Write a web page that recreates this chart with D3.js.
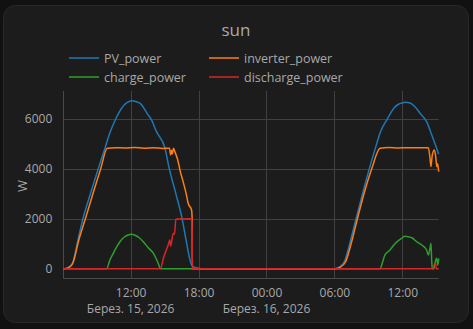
<!DOCTYPE html>
<html>
<head>
<meta charset="utf-8">
<script src="https://cdn.jsdelivr.net/npm/d3@7"></script>
<style>
  html, body { margin: 0; padding: 0; background: #111111; }
  svg { display: block; font-family: "Open Sans", Roboto, sans-serif; }
</style>
</head>
<body>
<div id="chart"></div>
<script>
// series data (time, watts)
const pvTimes = ["2026-03-15 06:03","2026-03-15 06:10","2026-03-15 06:39","2026-03-15 06:55","2026-03-15 07:04","2026-03-15 07:21","2026-03-15 07:47","2026-03-15 08:25","2026-03-15 09:08","2026-03-15 09:44","2026-03-15 10:10","2026-03-15 10:41","2026-03-15 11:12","2026-03-15 11:40","2026-03-15 12:08","2026-03-15 12:30","2026-03-15 12:49","2026-03-15 13:33","2026-03-15 13:48","2026-03-15 14:17","2026-03-15 15:02","2026-03-15 15:25","2026-03-15 16:00","2026-03-15 16:33","2026-03-15 16:55","2026-03-15 17:10","2026-03-15 17:23","2026-03-15 17:40","2026-03-15 18:07","2026-03-15 18:24",
  "2026-03-16 06:04","2026-03-16 06:30","2026-03-16 06:57","2026-03-16 07:05","2026-03-16 07:28","2026-03-16 07:55","2026-03-16 08:29","2026-03-16 09:05","2026-03-16 09:40","2026-03-16 10:05","2026-03-16 10:41","2026-03-16 11:15","2026-03-16 11:42","2026-03-16 12:00","2026-03-16 12:14","2026-03-16 12:41","2026-03-16 13:07","2026-03-16 13:34","2026-03-16 14:09","2026-03-16 14:36","2026-03-16 15:02","2026-03-16 15:13"];
const pvValues = [0,0,100,280,550,1150,2000,2960,4000,4830,5450,6000,6430,6650,6733,6690,6630,6160,6000,5490,4826,4000,3000,2000,1100,500,150,50,10,0,
  0,80,350,550,1200,2000,3000,4000,4900,5500,6000,6430,6600,6640,6670,6640,6490,6230,5890,5360,4826,4585];

const invTimes = ["2026-03-15 06:03","2026-03-15 06:10","2026-03-15 06:39","2026-03-15 06:55","2026-03-15 07:04","2026-03-15 07:20","2026-03-15 08:00","2026-03-15 08:40","2026-03-15 09:21","2026-03-15 09:56","2026-03-15 10:40","2026-03-15 11:30","2026-03-15 12:20","2026-03-15 13:10","2026-03-15 14:00","2026-03-15 14:50","2026-03-15 15:26","2026-03-15 15:32","2026-03-15 15:37","2026-03-15 15:41","2026-03-15 15:47","2026-03-15 15:53","2026-03-15 16:16","2026-03-15 16:20","2026-03-15 16:38","2026-03-15 16:56","2026-03-15 17:05","2026-03-15 17:23","2026-03-15 17:26","2026-03-15 17:27",
  "2026-03-16 06:04","2026-03-16 06:30","2026-03-16 07:01","2026-03-16 07:12","2026-03-16 07:34","2026-03-16 08:02","2026-03-16 08:37","2026-03-16 09:18","2026-03-16 10:02","2026-03-16 10:50","2026-03-16 11:40","2026-03-16 12:30","2026-03-16 13:20","2026-03-16 14:18","2026-03-16 14:27","2026-03-16 14:32","2026-03-16 14:39","2026-03-16 14:50","2026-03-16 14:57","2026-03-16 15:03","2026-03-16 15:07","2026-03-16 15:13"];
const invValues = [0,0,80,250,480,1000,2000,3000,4000,4826,4850,4840,4860,4830,4845,4820,4826,4560,4750,4600,4826,4720,4160,4000,3490,2950,2620,2350,2000,0,
  0,50,300,550,1150,2000,3000,4000,4826,4860,4840,4850,4845,4850,4425,4090,4560,4760,4500,4090,4200,3890];

const chargeTimes = ["2026-03-15 06:03","2026-03-15 09:53","2026-03-15 10:10","2026-03-15 10:28","2026-03-15 10:46","2026-03-15 11:03","2026-03-15 11:25","2026-03-15 11:46","2026-03-15 12:05","2026-03-15 12:23","2026-03-15 12:44","2026-03-15 13:07","2026-03-15 13:32","2026-03-15 14:00","2026-03-15 14:14","2026-03-15 14:26","2026-03-15 14:39",
  "2026-03-16 10:02","2026-03-16 10:15","2026-03-16 10:28","2026-03-16 10:55","2026-03-16 11:21","2026-03-16 11:57","2026-03-16 12:14","2026-03-16 12:32","2026-03-16 12:51","2026-03-16 13:16","2026-03-16 13:43","2026-03-16 14:09","2026-03-16 14:18","2026-03-16 14:27","2026-03-16 14:32","2026-03-16 14:36","2026-03-16 14:39","2026-03-16 14:48","2026-03-16 14:53","2026-03-16 15:02","2026-03-16 15:08","2026-03-16 15:13"];
const chargeValues = [0,0,350,617,870,1080,1260,1350,1380,1340,1250,1080,850,620,420,215,0,
  0,250,550,750,1000,1220,1300,1280,1240,1080,950,750,550,820,1020,280,0,0,215,415,150,415];

const dischargeTimes = ["2026-03-15 06:03","2026-03-15 14:37","2026-03-15 14:56","2026-03-15 15:19","2026-03-15 15:28","2026-03-15 15:32","2026-03-15 15:46","2026-03-15 15:52","2026-03-15 16:00","2026-03-15 17:26","2026-03-15 17:27",
  "2026-03-16 14:46","2026-03-16 14:49","2026-03-16 14:57","2026-03-16 15:00","2026-03-16 15:13"];
const dischargeValues = [0,0,480,950,1150,900,1420,1380,1990,2000,0,
  0,200,200,0,0];

const seriesNames = ["PV_power", "inverter_power", "charge_power", "discharge_power"];
const seriesColors = ["#1f77b4", "#ff7f0e", "#2ca02c", "#d62728"];

const yTicks = [0, 2000, 4000, 6000];
const xTicks = ["2026-03-15 12:00", "2026-03-15 18:00", "2026-03-16 00:00", "2026-03-16 06:00", "2026-03-16 12:00"];
const xDateLabels = ["Берез. 15, 2026", "", "Берез. 16, 2026", "", ""];
const xRange = ["2026-03-15 06:03", "2026-03-16 15:13"];

const parse = d3.timeParse("%Y-%m-%d %H:%M");

const width = 473, height = 329;
const plot = { left: 63.3, right: 438.7, top: 91, bottom: 278.3 };

const svg = d3.select("#chart").append("svg")
  .attr("width", width)
  .attr("height", height);

// card
svg.append("rect")
  .attr("x", 3.5).attr("y", 5.5)
  .attr("width", 465).attr("height", 317)
  .attr("rx", 12)
  .attr("fill", "#1c1c1c")
  .attr("stroke", "#282828");

svg.append("text")
  .attr("x", 236).attr("y", 36)
  .attr("text-anchor", "middle")
  .attr("font-size", 17)
  .attr("fill", "#a8a8a8")
  .text("sun");

// scales
const x = d3.scaleTime()
  .domain(xRange.map(parse))
  .range([plot.left, plot.right]);

const y = d3.scaleLinear()
  .domain([-385, 7120])
  .range([plot.bottom, plot.top]);

// grid
const grid = svg.append("g").attr("stroke", "#414141").attr("stroke-width", 1);
grid.selectAll(".gx").data(xTicks).enter().append("line")
  .attr("x1", d => Math.round(x(parse(d))) + 0.5)
  .attr("x2", d => Math.round(x(parse(d))) + 0.5)
  .attr("y1", plot.top).attr("y2", plot.bottom);
grid.selectAll(".gy").data(yTicks.slice(1)).enter().append("line")
  .attr("x1", plot.left).attr("x2", plot.right)
  .attr("y1", d => Math.round(y(d)) + 0.5)
  .attr("y2", d => Math.round(y(d)) + 0.5);

// axis lines
svg.append("line")
  .attr("x1", 63.5).attr("x2", 63.5)
  .attr("y1", plot.top).attr("y2", plot.bottom)
  .attr("stroke", "#4a4a4a");
svg.append("line")
  .attr("x1", plot.left).attr("x2", plot.right)
  .attr("y1", 278.5).attr("y2", 278.5)
  .attr("stroke", "#4a4a4a");

// y axis
const yAxis = svg.append("g")
  .attr("transform", `translate(${plot.left - 8},0)`)
  .call(d3.axisLeft(y).tickValues(yTicks).tickSize(0).tickFormat(d3.format("d")));
yAxis.select(".domain").remove();
yAxis.selectAll("text")
  .attr("fill", "#a8a8a8")
  .attr("font-size", 12)
  .attr("font-family", "Open Sans, Roboto, sans-serif");

svg.append("text")
  .attr("transform", "translate(27,186) rotate(-90)")
  .attr("text-anchor", "middle")
  .attr("font-size", 13)
  .attr("fill", "#a8a8a8")
  .text("W");

// x axis
const xAxis = svg.append("g")
  .attr("transform", `translate(0,${plot.bottom})`)
  .call(d3.axisBottom(x).tickValues(xTicks.map(parse)).tickSize(0).tickFormat(d3.timeFormat("%H:%M")));
xAxis.select(".domain").remove();
xAxis.selectAll("text")
  .attr("y", 18.5)
  .attr("dy", 0)
  .attr("fill", "#a8a8a8")
  .attr("font-size", 12)
  .attr("font-family", "Open Sans, Roboto, sans-serif");

svg.selectAll(".datelabel").data(xTicks).enter().append("text")
  .attr("x", d => x(parse(d)))
  .attr("y", 312.5)
  .attr("text-anchor", "middle")
  .attr("font-size", 12)
  .attr("fill", "#a8a8a8")
  .text((d, i) => xDateLabels[i]);

// lines
const series = [
  { times: pvTimes, values: pvValues },
  { times: invTimes, values: invValues },
  { times: chargeTimes, values: chargeValues },
  { times: dischargeTimes, values: dischargeValues }
];

const line = d3.line()
  .x(d => x(d.t))
  .y(d => y(d.v))
  .curve(d3.curveMonotoneX);

series.forEach((s, i) => {
  const pts = s.times.map((t, j) => ({ t: parse(t), v: s.values[j] }));
  svg.append("path")
    .datum(pts)
    .attr("fill", "none")
    .attr("stroke", seriesColors[i])
    .attr("stroke-width", 1.5)
    .attr("stroke-linejoin", "round")
    .attr("d", line);
});

// legend
const legend = svg.append("g");
seriesNames.forEach((name, i) => {
  const lx = i % 2 === 0 ? 69 : 209;
  const ly = i < 2 ? 58 : 77;
  legend.append("line")
    .attr("x1", lx).attr("x2", lx + 30)
    .attr("y1", ly).attr("y2", ly)
    .attr("stroke", seriesColors[i])
    .attr("stroke-width", 1.5);
  legend.append("text")
    .attr("x", lx + 35).attr("y", ly + 4.5)
    .attr("font-size", 12.5)
    .attr("fill", "#a8a8a8")
    .text(name);
});
</script>
</body>
</html>
